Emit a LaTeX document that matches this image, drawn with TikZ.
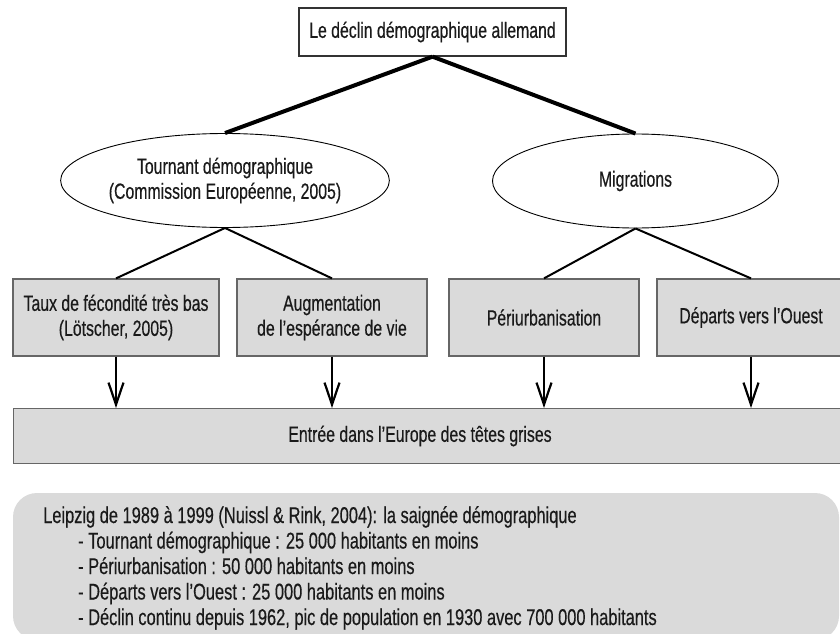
\documentclass[tikz,border=0pt]{standalone}
\usepackage{fontspec}
\setmainfont[FakeStretch=0.72,FakeBold=0.4]{Liberation Sans}
\usetikzlibrary{shapes.geometric,arrows.meta}
\definecolor{boxgray}{HTML}{DADADA}
\definecolor{edgegray}{HTML}{666666}
\definecolor{txt}{HTML}{1A1A1A}
\begin{document}
\begin{tikzpicture}[x=1pt,y=-1pt,
  every node/.style={font=\fontsize{22}{25}\selectfont, text=txt, inner sep=0pt},
  topbox/.style={draw=black!80, line width=1.3pt, fill=white, minimum width=267pt, minimum height=48pt},
  ell/.style={ellipse, draw=black, line width=0.9pt, fill=white, minimum width=286pt, minimum height=94pt, align=center},
  graybox/.style={draw=edgegray, line width=1.2pt, fill=boxgray, minimum height=77pt, align=center},
  thick link/.style={line width=4pt},
  thin link/.style={line width=2pt},
  downarrow/.style={line width=2pt, -{Straight Barb[length=22pt,width=15pt,line width=2.2pt]}},
  note/.style={anchor=base west, font=\fontsize{22.8}{25}\selectfont}
]
\useasboundingbox (0,0) rectangle (840,634);
\clip (0,0) rectangle (840,634);

\node[topbox] (top) at (432.5,32) {Le déclin démographique allemand};

\node[ell] (tour) at (225,180.5) {Tournant démographique\\(Commission Européenne, 2005)};
\node[ell] (migr) at (635.5,181) {Migrations};

\node[graybox, minimum width=206pt] (taux) at (116,317.5) {Taux de fécondité très bas\\(Lötscher, 2005)};
\node[graybox, minimum width=190pt] (augm) at (332,317.5) {Augmentation\\de l’espérance de vie};
\node[graybox, minimum width=190pt] (peri) at (544,317.5) {Périurbanisation};
\node[graybox, minimum width=188pt] (depa) at (751,317.5) {Départs vers l’Ouest};

\node[graybox, minimum width=840pt, minimum height=55pt, anchor=north west] (entree) at (13,408) {};
\node at (420,436) {Entrée dans l’Europe des têtes grises};

\draw[thick link] (top.south) -- (tour.north);
\draw[thick link] (top.south) -- (migr.north);

\draw[thin link] (tour.south) -- (taux.north);
\draw[thin link] (tour.south) -- (augm.north);
\draw[thin link] (migr.south) -- (peri.north);
\draw[thin link] (migr.south) -- (depa.north);

\draw[downarrow] (taux.south) -- (taux.south |- entree.north);
\draw[downarrow] (augm.south) -- (augm.south |- entree.north);
\draw[downarrow] (peri.south) -- (peri.south |- entree.north);
\draw[downarrow] (depa.south) -- (depa.south |- entree.north);

\fill[boxgray, rounded corners=24pt] (13,493) rectangle (839,640);
\node[note] (n1) at (43,523) {Leipzig de 1989 à 1999 (Nuissl \& Rink, 2004): la saignée démographique};
\node[note] (n2) at (78,548.5) {- Tournant démographique : 25 000 habitants en moins};
\node[note] (n3) at (78,574) {- Périurbanisation : 50 000 habitants en moins};
\node[note] (n4) at (78,599.5) {- Départs vers l'Ouest : 25 000 habitants en moins};
\node[note] (n5) at (78,625) {- Déclin continu depuis 1962, pic de population en 1930 avec 700 000 habitants};
\end{tikzpicture}
\end{document}
